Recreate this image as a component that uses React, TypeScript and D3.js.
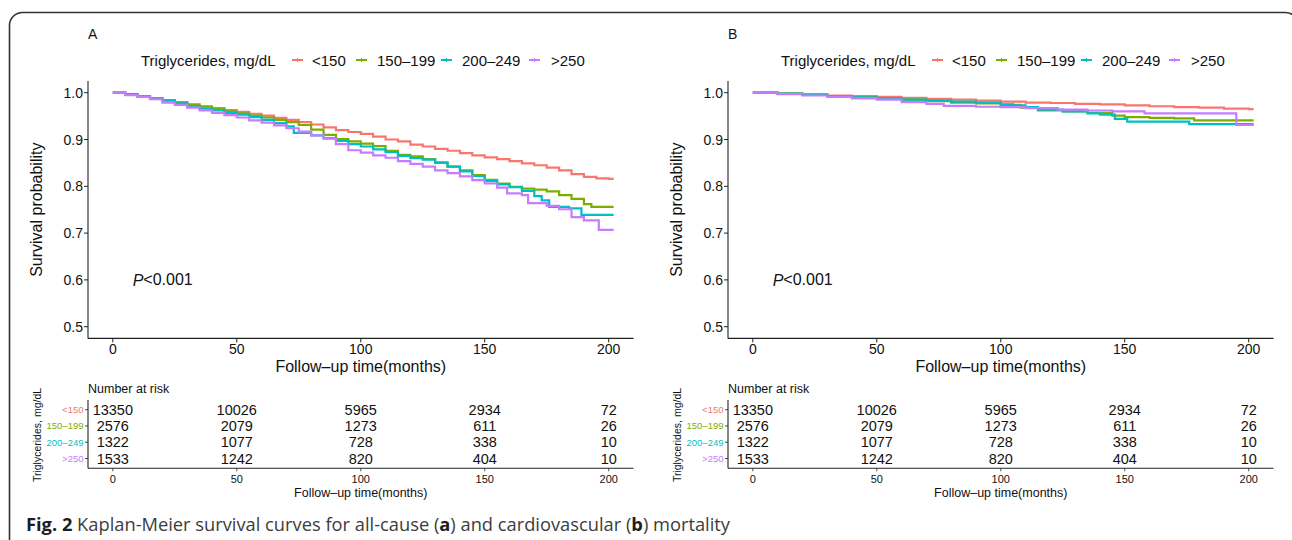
import React from 'react';
import * as d3 from 'd3';

const groups = ['<150', '150\u2013199', '200\u2013249', '>250'];
const colors = ['#F8766D', '#7CAE00', '#00BFC4', '#C77CFF'];

// Panel A: all-cause mortality (time in months, survival probability)
const aRedT = [0, 5, 10, 15, 20, 25, 30, 35, 40, 45, 50, 55, 60, 65, 70, 75, 80, 85, 90, 95, 100, 105, 110, 115, 120, 125, 130, 135, 140, 145, 150, 155, 160, 165, 170, 175, 180, 185, 190, 195, 200];
const aRedS = [1, 0.997, 0.992, 0.988, 0.984, 0.98, 0.975, 0.971, 0.967, 0.963, 0.959, 0.955, 0.951, 0.946, 0.942, 0.937, 0.932, 0.926, 0.92, 0.916, 0.912, 0.906, 0.9, 0.896, 0.889, 0.885, 0.88, 0.876, 0.871, 0.866, 0.862, 0.858, 0.854, 0.849, 0.845, 0.84, 0.834, 0.826, 0.82, 0.817, 0.816];
const aGrnT = [0, 5, 10, 15, 20, 25, 30, 35, 40, 45, 50, 55, 60, 65, 70, 75, 80, 85, 90, 95, 100, 105, 110, 115, 120, 125, 130, 135, 140, 145, 150, 155, 160, 165, 170, 175, 180, 185, 190, 193, 200];
const aGrnS = [1, 0.997, 0.993, 0.988, 0.984, 0.979, 0.974, 0.97, 0.965, 0.96, 0.956, 0.951, 0.947, 0.942, 0.937, 0.931, 0.921, 0.91, 0.901, 0.896, 0.891, 0.886, 0.876, 0.867, 0.864, 0.858, 0.851, 0.842, 0.834, 0.824, 0.814, 0.806, 0.799, 0.795, 0.793, 0.789, 0.781, 0.773, 0.762, 0.756, 0.756];
const aCyaT = [0, 5, 10, 15, 20, 25, 30, 35, 40, 45, 50, 55, 60, 65, 70, 73, 80, 85, 90, 95, 100, 105, 110, 115, 120, 125, 130, 135, 140, 145, 150, 155, 160, 165, 170, 173, 176, 184, 189, 200];
const aCyaS = [1, 0.997, 0.992, 0.988, 0.983, 0.977, 0.971, 0.966, 0.962, 0.957, 0.953, 0.948, 0.942, 0.935, 0.928, 0.914, 0.909, 0.903, 0.897, 0.89, 0.885, 0.879, 0.873, 0.865, 0.86, 0.857, 0.85, 0.842, 0.832, 0.822, 0.811, 0.804, 0.798, 0.79, 0.779, 0.77, 0.756, 0.753, 0.739, 0.739];
const aPurT = [0, 5, 10, 15, 20, 25, 30, 35, 40, 45, 50, 55, 60, 65, 70, 75, 80, 85, 90, 95, 100, 105, 110, 115, 120, 125, 130, 135, 140, 145, 150, 155, 159, 165, 167.5, 175, 180, 185, 190, 196, 200];
const aPurS = [1, 0.995, 0.991, 0.986, 0.979, 0.974, 0.968, 0.962, 0.957, 0.952, 0.947, 0.941, 0.936, 0.93, 0.924, 0.917, 0.909, 0.902, 0.89, 0.877, 0.872, 0.866, 0.861, 0.854, 0.848, 0.842, 0.834, 0.828, 0.821, 0.813, 0.806, 0.797, 0.785, 0.781, 0.764, 0.758, 0.751, 0.734, 0.727, 0.707, 0.707];

// Panel B: cardiovascular mortality
const bRedT = [0, 10, 20, 30, 40, 50, 60, 70, 80, 90, 100, 110, 120, 130, 140, 150, 160, 170, 180, 190, 200];
const bRedS = [1, 0.998, 0.996, 0.994, 0.993, 0.991, 0.989, 0.987, 0.985, 0.983, 0.981, 0.979, 0.978, 0.976, 0.975, 0.973, 0.971, 0.969, 0.968, 0.966, 0.965];
const bGrnT = [0, 10, 20, 30, 40, 50, 60, 70, 80, 90, 100, 108, 115, 125, 135, 145, 150, 160, 170, 178, 200];
const bGrnS = [1, 0.998, 0.996, 0.993, 0.99, 0.988, 0.985, 0.982, 0.979, 0.977, 0.974, 0.968, 0.962, 0.96, 0.957, 0.951, 0.948, 0.946, 0.945, 0.941, 0.941];
const bCyaT = [0, 10, 20, 30, 40, 50, 60, 70, 80, 90, 100, 105, 110, 115, 125, 135, 140, 146, 151, 176, 200];
const bCyaS = [1, 0.998, 0.996, 0.993, 0.99, 0.988, 0.985, 0.983, 0.981, 0.979, 0.975, 0.973, 0.969, 0.964, 0.96, 0.956, 0.953, 0.944, 0.938, 0.933, 0.933];
const bPurT = [0, 10, 20, 30, 40, 50, 60, 70, 77, 90, 100, 110, 123, 135, 145, 158, 195, 200];
const bPurS = [1, 0.997, 0.994, 0.991, 0.988, 0.985, 0.98, 0.976, 0.972, 0.97, 0.969, 0.967, 0.964, 0.962, 0.96, 0.956, 0.931, 0.931];

const riskTimes = [0, 50, 100, 150, 200];
const riskLow = [13350, 10026, 5965, 2934, 72];
const riskMid = [2576, 2079, 1273, 611, 26];
const riskHigh = [1322, 1077, 728, 338, 10];
const riskTop = [1533, 1242, 820, 404, 10];

const yTicks = [0.5, 0.6, 0.7, 0.8, 0.9, 1.0];
const xTicks = [0, 50, 100, 150, 200];
const END_T = 202;

const FONT = '"Liberation Sans", Arial, Helvetica, sans-serif';
const INK = '#111';

function toPts(t: number[], s: number[]): [number, number][] {
  const p = t.map((v, i) => [v, s[i]] as [number, number]);
  p.push([END_T, s[s.length - 1]]);
  return p;
}

const panelA = [toPts(aRedT, aRedS), toPts(aGrnT, aGrnS), toPts(aCyaT, aCyaS), toPts(aPurT, aPurS)];
const panelB = [toPts(bRedT, bRedS), toPts(bGrnT, bGrnS), toPts(bCyaT, bCyaS), toPts(bPurT, bPurS)];
const riskRows = [riskLow, riskMid, riskHigh, riskTop];

function Panel({ ox, label, series }: { ox: number; label: string; series: [number, number][][] }) {
  const x = d3.scaleLinear().domain([-10, 210]).range([88 + ox, 633.5 + ox]);
  const y = d3.scaleLinear().domain([0.475, 1.025]).range([338.4, 81]);
  const line = d3.line<[number, number]>().x(d => x(d[0])).y(d => y(d[1])).curve(d3.curveStepAfter);
  const ry = d3.scalePoint<string>().domain(groups).range([409.7, 458.5]);
  const legendKeyX = [292, 356, 441, 529];
  const legendTextX = [312, 377, 462, 551];
  const tableTop = 400, tableBot = 468.3;
  return (
    <g>
      <text x={88 + ox} y={34} fontFamily={FONT} fontSize={14} fill={INK} dominantBaseline="central">{label}</text>
      {/* legend */}
      <text x={141 + ox} y={60} fontFamily={FONT} fontSize={15} fill={INK} dominantBaseline="central">Triglycerides, mg/dL</text>
      {groups.map((g, i) => (
        <g key={g}>
          <line x1={legendKeyX[i] + ox} x2={legendKeyX[i] + 11 + ox} y1={60} y2={60} stroke={colors[i]} strokeWidth={2} />
          <line x1={legendKeyX[i] + 5.5 + ox} x2={legendKeyX[i] + 5.5 + ox} y1={58} y2={62} stroke={colors[i]} strokeWidth={1} />
          <text x={legendTextX[i] + ox} y={60} fontFamily={FONT} fontSize={15} fill={INK} dominantBaseline="central">{g}</text>
        </g>
      ))}
      {/* curves */}
      {series.map((s, i) => (
        <path key={i} d={line(s) || ''} fill="none" stroke={colors[i]} strokeWidth={2.2} />
      ))}
      {/* axes */}
      <line x1={x(-10)} x2={x(-10)} y1={y(1.025)} y2={y(0.475)} stroke="#222" strokeWidth={1.1} />
      <line x1={x(-10)} x2={x(210)} y1={y(0.475)} y2={y(0.475)} stroke="#222" strokeWidth={1.1} />
      {yTicks.map(t => (
        <g key={t}>
          <line x1={x(-10) - 4} x2={x(-10)} y1={y(t)} y2={y(t)} stroke="#222" strokeWidth={1} />
          <text x={x(-10) - 5} y={y(t)} textAnchor="end" dominantBaseline="central" fontFamily={FONT} fontSize={14} fill={INK}>{t.toFixed(1)}</text>
        </g>
      ))}
      {xTicks.map(t => (
        <g key={t}>
          <line x1={x(t)} x2={x(t)} y1={y(0.475)} y2={y(0.475) + 4} stroke="#222" strokeWidth={1} />
          <text x={x(t)} y={349} textAnchor="middle" dominantBaseline="central" fontFamily={FONT} fontSize={14} fill={INK}>{t}</text>
        </g>
      ))}
      <text x={x(100)} y={366} textAnchor="middle" dominantBaseline="central" fontFamily={FONT} fontSize={16} fill={INK}>Follow{'\u2013'}up time(months)</text>
      <text transform={`translate(${36 + ox},${y(0.75)}) rotate(-90)`} textAnchor="middle" dominantBaseline="central" fontFamily={FONT} fontSize={16} fill={INK}>Survival probability</text>
      <text x={x(8)} y={y(0.6)} dominantBaseline="central" fontFamily={FONT} fontSize={16} fill={INK}>
        <tspan fontStyle="italic">P</tspan>{'<0.001'}
      </text>
      {/* risk table */}
      <text x={88 + ox} y={389} dominantBaseline="central" fontFamily={FONT} fontSize={12.5} fill={INK}>Number at risk</text>
      <line x1={x(-10)} x2={x(-10)} y1={tableTop} y2={tableBot} stroke="#222" strokeWidth={1.1} />
      <line x1={x(-10)} x2={x(210)} y1={tableBot} y2={tableBot} stroke="#222" strokeWidth={1.1} />
      {groups.map((g, i) => (
        <g key={g}>
          <line x1={x(-10) - 3} x2={x(-10)} y1={ry(g)} y2={ry(g)} stroke="#222" strokeWidth={0.8} />
          <text x={x(-10) - 4.5} y={ry(g)} textAnchor="end" dominantBaseline="central" fontFamily={FONT} fontSize={9.5} fill={colors[i]}>{g}</text>
          {riskRows[i].map((n, j) => (
            <text key={j} x={x(riskTimes[j])} y={ry(g)} textAnchor="middle" dominantBaseline="central" fontFamily={FONT} fontSize={14.5} fill={INK}>{n}</text>
          ))}
        </g>
      ))}
      {xTicks.map(t => (
        <g key={t}>
          <line x1={x(t)} x2={x(t)} y1={tableBot} y2={tableBot + 3} stroke="#222" strokeWidth={0.8} />
          <text x={x(t)} y={478.5} textAnchor="middle" dominantBaseline="central" fontFamily={FONT} fontSize={11} fill={INK}>{t}</text>
        </g>
      ))}
      <text x={x(100)} y={492.5} textAnchor="middle" dominantBaseline="central" fontFamily={FONT} fontSize={12.5} fill={INK}>Follow{'\u2013'}up time(months)</text>
      <text transform={`translate(${37 + ox},${435}) rotate(-90)`} textAnchor="middle" dominantBaseline="central" fontFamily={FONT} fontSize={10.5} fill={INK}>Triglycerides, mg/dL</text>
    </g>
  );
}

export default function App() {
  return (
    <svg width={1292} height={540} style={{ position: 'absolute', left: 0, top: 0, background: '#fff' }}>
      <rect x={0} y={0} width={1292} height={540} fill="#fff" />
      <rect x={9.5} y={12.5} width={1289} height={580} rx={13} ry={13} fill="none" stroke="#333" strokeWidth={1.6} />
      <Panel ox={0} label="A" series={panelA} />
      <Panel ox={640} label="B" series={panelB} />
      <text x={26} y={523} dominantBaseline="central" fontFamily='"Open Sans", "Noto Sans", sans-serif' fontSize={18.3} fill="#3c3c3c">
        <tspan fontWeight="bold" fill="#1e1e1e">Fig. 2</tspan> Kaplan-Meier survival curves for all-cause (<tspan fontWeight="bold" fill="#1e1e1e">a</tspan>) and cardiovascular (<tspan fontWeight="bold" fill="#1e1e1e">b</tspan>) mortality
      </text>
    </svg>
  );
}
